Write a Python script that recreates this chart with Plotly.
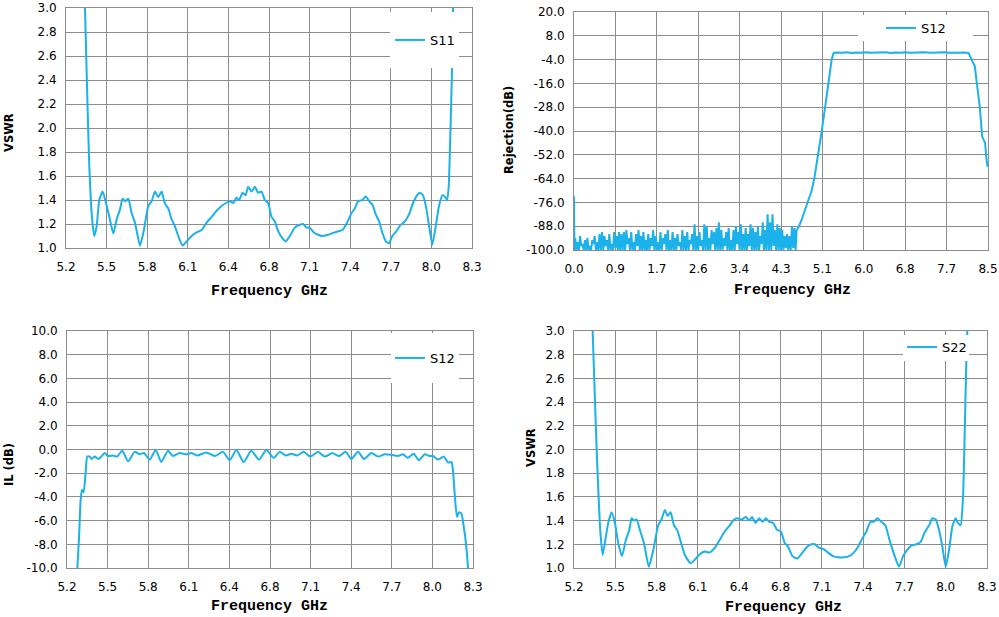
import plotly.graph_objects as go

# ---- data ----
# S11 (input VSWR)
s11_f = [5.340, 5.345, 5.363, 5.378, 5.398, 5.416, 5.434, 5.454, 5.480, 5.505,
         5.531, 5.561, 5.587, 5.612, 5.632, 5.653, 5.676, 5.701, 5.727, 5.765,
         5.795, 5.828, 5.854, 5.879, 5.904, 5.930, 5.955, 5.981, 6.006, 6.032,
         6.057, 6.090, 6.121, 6.159, 6.197, 6.235, 6.273, 6.312, 6.350, 6.388,
         6.421, 6.451, 6.477, 6.502, 6.522, 6.548, 6.571, 6.591, 6.616, 6.642,
         6.667, 6.693, 6.718, 6.744, 6.769, 6.795, 6.820, 6.853, 6.879, 6.909,
         6.947, 6.980, 7.011, 7.036, 7.061, 7.092, 7.125, 7.158, 7.201, 7.239,
         7.278, 7.311, 7.341, 7.379, 7.405, 7.430, 7.463, 7.489, 7.514, 7.540,
         7.565, 7.591, 7.616, 7.642, 7.667, 7.692, 7.723, 7.753, 7.786, 7.819,
         7.850, 7.875, 7.901, 7.926, 7.951, 7.977, 7.997, 8.023, 8.048, 8.074,
         8.092, 8.110, 8.122, 8.135, 8.148, 8.155, 8.160]
s11_vswr = [3.20, 3.00, 2.24, 1.68, 1.26, 1.10, 1.18, 1.40, 1.47, 1.375,
            1.26, 1.12, 1.24, 1.32, 1.41, 1.39, 1.41, 1.29, 1.21, 1.02,
            1.15, 1.35, 1.39, 1.47, 1.425, 1.47, 1.37, 1.33, 1.24, 1.18,
            1.10, 1.02, 1.055, 1.10, 1.13, 1.15, 1.21, 1.26, 1.31, 1.35,
            1.375, 1.39, 1.375, 1.42, 1.40, 1.46, 1.44, 1.51, 1.47, 1.51,
            1.46, 1.47, 1.40, 1.375, 1.26, 1.22, 1.14, 1.08, 1.055, 1.10,
            1.17, 1.19, 1.20, 1.17, 1.17, 1.13, 1.11, 1.10, 1.11, 1.125,
            1.14, 1.15, 1.20, 1.29, 1.33, 1.39, 1.40, 1.43, 1.39, 1.36,
            1.28, 1.22, 1.125, 1.055, 1.04, 1.10, 1.14, 1.19, 1.22, 1.28,
            1.375, 1.43, 1.46, 1.44, 1.33, 1.15, 1.03, 1.18, 1.35, 1.44,
            1.43, 1.40, 1.51, 1.96, 2.51, 3.00, 3.20]

# S22 (output VSWR)
s22_f = [5.335, 5.340, 5.370, 5.395, 5.415, 5.440, 5.457, 5.482, 5.507, 5.532,
         5.560, 5.590, 5.615, 5.632, 5.652, 5.670, 5.695, 5.725, 5.762, 5.795,
         5.832, 5.857, 5.882, 5.902, 5.925, 5.950, 5.975, 6.007, 6.032, 6.075,
         6.107, 6.137, 6.182, 6.215, 6.257, 6.295, 6.332, 6.370, 6.395, 6.425,
         6.457, 6.490, 6.515, 6.537, 6.562, 6.590, 6.615, 6.640, 6.665, 6.695,
         6.725, 6.752, 6.782, 6.807, 6.840, 6.875, 6.915, 6.950, 6.982, 7.007,
         7.040, 7.075, 7.107, 7.145, 7.182, 7.225, 7.265, 7.300, 7.332, 7.365,
         7.395, 7.425, 7.450, 7.477, 7.507, 7.537, 7.565, 7.595, 7.620, 7.640,
         7.670, 7.700, 7.732, 7.770, 7.802, 7.832, 7.865, 7.890, 7.915, 7.940,
         7.965, 7.990, 8.015, 8.040, 8.065, 8.082, 8.102, 8.120, 8.132, 8.145,
         8.152, 8.157]
s22_vswr = [3.2, 3.0, 2.0, 1.35, 1.11, 1.27, 1.38, 1.47, 1.38, 1.21,
            1.10, 1.24, 1.32, 1.42, 1.40, 1.41, 1.32, 1.21, 1.01, 1.15,
            1.36, 1.41, 1.49, 1.44, 1.47, 1.36, 1.32, 1.20, 1.11, 1.04,
            1.07, 1.11, 1.14, 1.13, 1.17, 1.24, 1.31, 1.36, 1.40, 1.42,
            1.41, 1.43, 1.40, 1.43, 1.38, 1.42, 1.39, 1.42, 1.39, 1.38,
            1.32, 1.31, 1.21, 1.18, 1.10, 1.08, 1.13, 1.18, 1.20, 1.20,
            1.17, 1.16, 1.13, 1.10, 1.09, 1.09, 1.10, 1.13, 1.18, 1.25,
            1.31, 1.39, 1.39, 1.42, 1.39, 1.36, 1.25, 1.14, 1.06, 1.01,
            1.10, 1.15, 1.19, 1.20, 1.22, 1.30, 1.36, 1.42, 1.41, 1.32,
            1.18, 1.01, 1.15, 1.35, 1.42, 1.38, 1.36, 1.60, 2.11, 2.75,
            3.0, 3.2]

# S12 insertion loss, passband zoom
il_f = [5.276, 5.279, 5.292, 5.304, 5.315, 5.327, 5.343, 5.355, 5.373, 5.388,
        5.411, 5.439, 5.462, 5.488, 5.513, 5.551, 5.582, 5.622, 5.666, 5.717,
        5.755, 5.788, 5.831, 5.877, 5.920, 5.971, 6.009, 6.060, 6.111, 6.149,
        6.193, 6.264, 6.328, 6.391, 6.442, 6.493, 6.549, 6.607, 6.666, 6.722,
        6.778, 6.824, 6.870, 6.913, 6.958, 7.007, 7.058, 7.117, 7.168, 7.226,
        7.277, 7.328, 7.371, 7.422, 7.468, 7.524, 7.575, 7.626, 7.676, 7.727,
        7.765, 7.803, 7.847, 7.887, 7.931, 7.969, 7.994, 8.032, 8.078, 8.109,
        8.135, 8.147, 8.160, 8.178, 8.193, 8.211, 8.229, 8.244, 8.262, 8.266]
il_db = [-11, -10, -7.4, -4.3, -3.4, -3.6, -1.8, -0.6, -0.6, -0.8,
         -0.6, -0.8, -0.6, -0.3, -0.55, -0.5, -0.6, -0.1, -1.0, -0.2,
         -0.4, -0.3, -0.85, -0.05, -1.05, -0.1, -0.55, -0.3, -0.4, -0.3,
         -0.5, -0.25, -0.55, -0.2, -0.9, -0.05, -1.05, -0.1, -0.85, -0.05,
         -0.7, -0.2, -0.5, -0.35, -0.5, -0.2, -0.6, -0.2, -0.6, -0.3,
         -0.55, -0.2, -0.8, -0.2, -0.8, -0.3, -0.6, -0.4, -0.45, -0.55,
         -0.4, -0.7, -0.35, -0.9, -0.4, -0.55, -0.55, -0.85, -0.6, -1.1,
         -1.05, -1.75, -3.7, -5.7, -5.3, -5.4, -6.5, -7.7, -10, -11]

# S12 rejection, wide sweep: stopband noise, skirt, passband, upper skirt
stop_f = [0.000, 0.008,
          0.025, 0.050, 0.075, 0.100, 0.125, 0.150, 0.175, 0.200, 0.225, 0.250,
          0.275, 0.300, 0.325, 0.350, 0.375, 0.400, 0.425, 0.450, 0.475, 0.500,
          0.525, 0.550, 0.575, 0.600, 0.625, 0.650, 0.675, 0.700, 0.725, 0.750,
          0.775, 0.800, 0.825, 0.850, 0.875, 0.900, 0.925, 0.950, 0.975, 1.000,
          1.025, 1.050, 1.075, 1.100, 1.125, 1.150, 1.175, 1.200, 1.225, 1.250,
          1.275, 1.300, 1.325, 1.350, 1.375, 1.400, 1.425, 1.450, 1.475, 1.500,
          1.525, 1.550, 1.575, 1.600, 1.625, 1.650, 1.675, 1.700, 1.725, 1.750,
          1.775, 1.800, 1.825, 1.850, 1.875, 1.900, 1.925, 1.950, 1.975, 2.000,
          2.025, 2.050, 2.075, 2.100, 2.125, 2.150, 2.175, 2.200, 2.225, 2.250,
          2.275, 2.300, 2.325, 2.350, 2.375, 2.400, 2.425, 2.450, 2.475, 2.500,
          2.525, 2.550, 2.575, 2.600, 2.625, 2.650, 2.675, 2.700, 2.725, 2.750,
          2.775, 2.800, 2.825, 2.850, 2.875, 2.900, 2.925, 2.950, 2.975, 3.000,
          3.025, 3.050, 3.075, 3.100, 3.125, 3.150, 3.175, 3.200, 3.225, 3.250,
          3.275, 3.300, 3.325, 3.350, 3.375, 3.400, 3.425, 3.450, 3.475, 3.500,
          3.525, 3.550, 3.575, 3.600, 3.625, 3.650, 3.675, 3.700, 3.725, 3.750,
          3.775, 3.800, 3.825, 3.850, 3.875, 3.900, 3.925, 3.950, 3.975, 4.000,
          4.025, 4.050, 4.075, 4.100, 4.125, 4.150, 4.175, 4.200, 4.225, 4.250,
          4.275, 4.300, 4.325, 4.350, 4.375, 4.400, 4.425, 4.450, 4.475, 4.500,
          4.525, 4.550]
stop_db = [-73, -100,
           -94, -100, -96, -100, -93, -98, -97, -100, -95, -100,
           -94, -100, -98, -100, -95, -97, -93, -100, -96, -100,
           -92, -100, -91, -100, -93, -98, -95, -100, -92, -100,
           -97, -100, -91, -99, -93, -100, -91, -100, -92, -100,
           -91, -100, -90, -97, -94, -100, -91, -100, -96, -100,
           -92, -98, -90, -100, -93, -100, -91, -100, -95, -100,
           -92, -100, -94, -98, -90, -100, -93, -100, -96, -100,
           -91, -100, -94, -97, -92, -100, -90, -100, -95, -100,
           -91, -100, -94, -100, -92, -98, -96, -100, -90, -100,
           -93, -100, -91, -100, -95, -97, -92, -100, -87, -100,
           -93, -100, -91, -98, -95, -100, -87, -100, -88, -100,
           -94, -100, -90, -97, -91, -100, -89, -100, -86, -100,
           -90, -100, -94, -98, -91, -100, -89, -100, -95, -100,
           -90, -100, -88, -97, -91, -100, -87, -100, -92, -100,
           -89, -100, -92, -98, -87, -100, -89, -100, -91, -100,
           -88, -100, -93, -97, -86, -100, -90, -100, -82, -100,
           -86, -100, -82, -98, -90, -100, -87, -100, -89, -100,
           -90, -100, -93, -99, -92, -100, -93, -100, -88, -99,
           -89, -100]
skirt_f = [4.570, 4.620, 4.670, 4.740, 4.810, 4.880, 4.940, 5.010, 5.080,
           5.150, 5.220, 5.290, 5.330]
skirt_db = [-90, -88, -85, -80, -75, -70, -63, -53, -41, -29, -16, -4, -0.6]
pass_f = [5.40, 5.50, 5.60, 5.70, 5.80, 5.90, 6.00, 6.10, 6.20, 6.30,
          6.40, 6.50, 6.60, 6.70, 6.80, 6.90, 7.00, 7.10, 7.20, 7.30,
          7.40, 7.50, 7.60, 7.70, 7.80, 7.90, 8.00, 8.10]
pass_db = [-0.4, -0.6, -0.3, -0.7, -0.4, -0.5, -0.3, -0.6, -0.4, -0.5,
           -0.3, -0.7, -0.4, -0.5, -0.3, -0.6, -0.4, -0.5, -0.3, -0.6,
           -0.4, -0.5, -0.3, -0.6, -0.4, -0.5, -0.4, -0.6]
upper_f = [8.18, 8.23, 8.27, 8.33, 8.38, 8.44, 8.47, 8.49]
upper_db = [-4.9, -7.4, -15.8, -27.6, -42.8, -46, -54.5, -58]

# tick labels
band_ticks = [5.2, 5.51, 5.82, 6.13, 6.44, 6.75, 7.06, 7.37, 7.68, 7.99, 8.3]
band_labels = ["5.2", "5.5", "5.8", "6.1", "6.4", "6.8", "7.1", "7.4", "7.7", "8.0", "8.3"]
wide_ticks = [0, 0.85, 1.7, 2.55, 3.4, 4.25, 5.1, 5.95, 6.8, 7.65, 8.5]
wide_labels = ["0.0", "0.9", "1.7", "2.6", "3.4", "4.3", "5.1", "6.0", "6.8", "7.7", "8.5"]
vswr_ticks = [1.0, 1.2, 1.4, 1.6, 1.8, 2.0, 2.2, 2.4, 2.6, 2.8, 3.0]
rej_ticks = [-100, -88, -76, -64, -52, -40, -28, -16, -4, 8, 20]
il_ticks = [-10, -8, -6, -4, -2, 0, 2, 4, 6, 8, 10]

W, H = 999, 617
LINE = "#1BB1EA"
GRID = "#8C8C8C"


def px_x(p):
    return p / W


def px_y(p):
    return 1 - p / H


fig = go.Figure()

fig.add_trace(go.Scatter(x=s11_f, y=s11_vswr, name="S11", mode="lines",
                         line=dict(color=LINE, width=2, shape="spline", smoothing=0.5),
                         xaxis="x", yaxis="y", legend="legend"))
fig.add_trace(go.Scatter(x=stop_f + skirt_f + pass_f + upper_f,
                         y=stop_db + skirt_db + pass_db + upper_db,
                         name="S12", mode="lines", line=dict(color=LINE, width=2),
                         xaxis="x2", yaxis="y2", legend="legend2"))
fig.add_trace(go.Scatter(x=il_f, y=il_db, name="S12", mode="lines",
                         line=dict(color=LINE, width=2, shape="spline", smoothing=0.6),
                         xaxis="x3", yaxis="y3", legend="legend3"))
fig.add_trace(go.Scatter(x=s22_f, y=s22_vswr, name="S22", mode="lines",
                         line=dict(color=LINE, width=2, shape="spline", smoothing=0.5),
                         xaxis="x4", yaxis="y4", legend="legend4"))

# plot areas in pixels: (left, right, top, bottom)
areas = [(66, 472, 8, 248), (574, 988, 12, 250), (67, 473, 331, 568), (574, 987, 331, 568)]
xinfo = [(band_ticks, band_labels, [5.2, 8.3]), (wide_ticks, wide_labels, [0, 8.5]),
         (band_ticks, band_labels, [5.2, 8.3]), (band_ticks, band_labels, [5.2, 8.3])]
yinfo = [(vswr_ticks, ["%.1f" % v for v in vswr_ticks], [1, 3]),
         (rej_ticks, ["%.1f" % v for v in rej_ticks], [-100, 20]),
         (il_ticks, ["%.1f" % v for v in il_ticks], [-10, 10]),
         (vswr_ticks, ["%.1f" % v for v in vswr_ticks], [1, 3])]

tickfont = dict(family="DejaVu Sans", size=12, color="black")
axes = {}
for i, (l, r, t, b) in enumerate(areas):
    sfx = "" if i == 0 else str(i + 1)
    xt, xl, xr = xinfo[i]
    yt, yl, yr = yinfo[i]
    axes["xaxis" + sfx] = dict(domain=[px_x(l), px_x(r)], range=xr, tickvals=xt, ticktext=xl,
                               anchor="y" + sfx, showgrid=True, gridcolor=GRID, gridwidth=1,
                               showline=True, mirror=True, linecolor=GRID, linewidth=1,
                               zeroline=False, ticks="outside", ticklen=8, automargin=False,
                               tickcolor="rgba(0,0,0,0)", tickfont=tickfont, fixedrange=True)
    axes["yaxis" + sfx] = dict(domain=[px_y(b), px_y(t)], range=yr, tickvals=yt, ticktext=yl,
                               anchor="x" + sfx, showgrid=True, gridcolor=GRID, gridwidth=1,
                               showline=True, mirror=True, linecolor=GRID, linewidth=1,
                               zeroline=False, ticks="outside", ticklen=6, automargin=False,
                               tickcolor="rgba(0,0,0,0)", tickfont=tickfont, fixedrange=True)

# white legend backdrops (they hide grid and trace, like the original)
boxes = [(390, 459, 12, 68), (858, 973, 15, 41), (391, 459, 333, 383), (903, 969, 335, 361)]
shapes = [dict(type="rect", xref="paper", yref="paper", x0=px_x(a), x1=px_x(b),
               y0=px_y(d), y1=px_y(c), fillcolor="white", line=dict(width=0), layer="above")
          for a, b, c, d in boxes]

# legend sample start x and centre y (pixels)
leg_pos = [(395, 40), (886, 28), (395, 358), (907, 347)]
legfont = dict(family="DejaVu Sans", size=13, color="black")
legends = {}
for i, (lx, ly) in enumerate(leg_pos):
    key = "legend" if i == 0 else "legend" + str(i + 1)
    legends[key] = dict(x=px_x(lx - 5), y=px_y(ly), xanchor="left", yanchor="middle",
                        bgcolor="rgba(0,0,0,0)", borderwidth=0, font=legfont)

xtitle_font = dict(family="Liberation Mono", size=15, color="black")
ytitle_font = dict(family="DejaVu Sans", size=11.5, color="black")
ann = []
for cx, cy in [(269, 291), (792, 290), (269, 606), (783, 607)]:
    ann.append(dict(text="<b>Frequency GHz</b>", x=px_x(cx), y=px_y(cy), xref="paper",
                    yref="paper", showarrow=False, font=xtitle_font,
                    xanchor="center", yanchor="middle"))
for txt, cx, cy in [("VSWR", 9, 133), ("Rejection(dB)", 509, 130),
                    ("IL (dB)", 9, 465), ("VSWR", 531, 448)]:
    ann.append(dict(text="<b>%s</b>" % txt, x=px_x(cx), y=px_y(cy), xref="paper",
                    yref="paper", showarrow=False, font=ytitle_font, textangle=-90,
                    xanchor="center", yanchor="middle"))

fig.update_layout(width=W, height=H, margin=dict(l=0, r=0, t=0, b=0),
                  paper_bgcolor="white", plot_bgcolor="white", showlegend=True,
                  shapes=shapes, annotations=ann, **axes, **legends)

# the page body has a default 8px margin; drop it so the figure fills the window
fig.write_html("out.html", config={"displayModeBar": False},
               post_script="document.body.style.margin='0';"
                           "document.body.style.overflow='hidden';")
